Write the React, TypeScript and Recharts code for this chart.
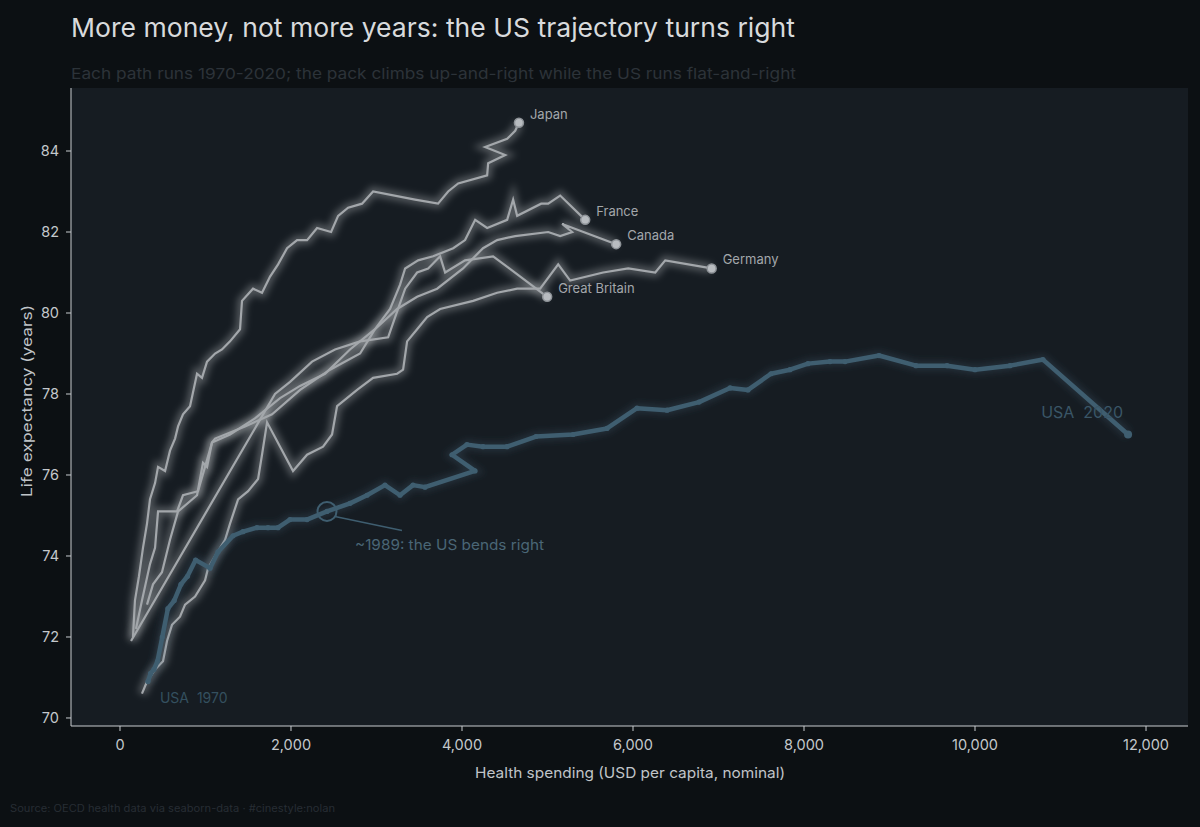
import React from "react";
import { LineChart, Line, XAxis, YAxis, CartesianGrid } from "recharts";

// Paths (spending USD per capita, life expectancy years)
const usaSpend = [327, 358, 397, 439, 495, 560, 634, 713, 789, 884, 1053, 1146, 1322, 1439, 1602, 1731, 1848, 1988, 2187, 2421, 2690, 2889, 3099, 3275, 3427, 3567, 4152, 3883, 4058, 4246, 4526, 4865, 5298, 5696, 6047, 6398, 6772, 7135, 7345, 7614, 7836, 8047, 8304, 8480, 8877, 9310, 9673, 10000, 10409, 10795, 11790];
const usaLife = [70.9, 71.1, 71.2, 71.4, 72.0, 72.7, 72.9, 73.3, 73.5, 73.9, 73.7, 74.1, 74.5, 74.6, 74.7, 74.7, 74.7, 74.9, 74.9, 75.1, 75.3, 75.5, 75.75, 75.5, 75.75, 75.7, 76.1, 76.5, 76.75, 76.7, 76.7, 76.95, 77.0, 77.15, 77.65, 77.6, 77.8, 78.15, 78.1, 78.5, 78.6, 78.75, 78.8, 78.8, 78.95, 78.7, 78.7, 78.6, 78.7, 78.85, 77.0];

const jpnSpend = [152, 175, 222, 269, 316, 351, 410, 445, 527, 585, 644, 679, 737, 819, 901, 959, 1018, 1112, 1193, 1287, 1404, 1427, 1556, 1661, 1755, 1849, 1954, 2071, 2188, 2305, 2469, 2551, 2668, 2831, 2960, 3451, 3720, 3838, 3955, 4294, 4306, 4505, 4271, 4528, 4622, 4666];
const jpnLife = [72.0, 72.9, 73.5, 74.2, 74.8, 75.4, 75.8, 76.2, 76.1, 76.6, 76.9, 77.2, 77.5, 77.7, 78.5, 78.4, 78.8, 79.0, 79.1, 79.3, 79.6, 80.3, 80.6, 80.5, 80.9, 81.2, 81.6, 81.8, 81.8, 82.1, 82.0, 82.4, 82.6, 82.7, 83.0, 82.8, 82.7, 83.0, 83.2, 83.4, 83.7, 83.9, 84.1, 84.3, 84.5, 84.7];

const deuSpend = [257, 316, 410, 503, 550, 608, 702, 761, 878, 995, 1030, 1112, 1229, 1287, 1381, 1498, 1615, 1661, 1720, 2024, 2188, 2375, 2480, 2539, 2773, 2960, 3241, 3311, 3358, 3475, 3592, 3744, 4130, 4411, 4645, 4914, 5125, 5265, 5651, 5944, 6260, 6377, 6920];
const deuLife = [70.6, 70.9, 71.2, 71.4, 71.9, 72.3, 72.5, 72.8, 73.0, 73.4, 73.7, 74.0, 74.4, 74.8, 75.4, 75.6, 75.9, 76.5, 77.3, 76.1, 76.5, 76.7, 77.0, 77.7, 78.1, 78.4, 78.5, 78.6, 79.3, 79.6, 79.9, 80.1, 80.3, 80.5, 80.6, 80.6, 81.2, 80.8, 81.0, 81.1, 81.0, 81.3, 81.1];

const gbrSpend = [129, 1813, 1989, 2246, 2515, 2808, 3136, 3218, 3335, 3475, 3604, 3744, 3803, 4036, 4364, 4996];
const gbrLife = [71.9, 78.0, 78.3, 78.8, 79.1, 79.3, 79.4, 79.9, 80.6, 81.0, 81.1, 81.4, 81.0, 81.3, 81.4, 80.4];

const fraSpend = [187, 257, 351, 410, 445, 667, 737, 913, 1076, 1112, 1462, 1778, 2106, 2457, 2808, 2983, 3159, 3276, 3335, 3487, 3663, 3897, 4036, 4154, 4294, 4528, 4598, 4645, 4926, 5008, 5148, 5441];
const fraLife = [72.2, 72.9, 73.8, 74.2, 75.1, 75.1, 75.5, 75.6, 76.8, 76.9, 77.2, 77.5, 78.1, 78.6, 79.0, 79.6, 80.1, 80.7, 81.1, 81.3, 81.4, 81.6, 81.8, 82.3, 82.1, 82.3, 82.8, 82.4, 82.7, 82.7, 82.9, 82.3];

const canSpend = [316, 386, 491, 585, 679, 901, 971, 1018, 1076, 1287, 1579, 1872, 2106, 2398, 2690, 2983, 3241, 3475, 3709, 4012, 4246, 4411, 4622, 5008, 5148, 5288, 5171, 5803];
const canLife = [72.8, 73.3, 73.6, 74.4, 75.1, 75.5, 76.3, 76.2, 76.8, 77.0, 77.4, 77.9, 78.2, 78.5, 79.1, 79.6, 80.1, 80.4, 80.6, 81.1, 81.6, 81.8, 81.9, 82.0, 81.9, 82.0, 82.2, 81.7];

const xTicks = [0, 2000, 4000, 6000, 8000, 10000, 12000];
const yTicks = [70, 72, 74, 76, 78, 80, 82, 84];

const toRows = (s: number[], l: number[]) => s.map((x, i) => ({ x, y: l[i] }));

const peers = [
  { name: "Japan", rows: toRows(jpnSpend, jpnLife) },
  { name: "Germany", rows: toRows(deuSpend, deuLife) },
  { name: "Great Britain", rows: toRows(gbrSpend, gbrLife) },
  { name: "France", rows: toRows(fraSpend, fraLife) },
  { name: "Canada", rows: toRows(canSpend, canLife) },
];
const usa = toRows(usaSpend, usaLife);

const FONT = "Inter, 'DejaVu Sans', sans-serif";
const GRAY = "#a3a7ab";
const BLUE = "#3f5e70";
const BG = "#0c1013";
const PANEL = "#161c22";

function peerDot(name: string, last: number) {
  return (props: any) => {
    const { cx, cy, index } = props;
    if (index !== last) return <g key={`e-${name}-${index}`} />;
    return (
      <g key={`d-${name}-${index}`}>
        <circle cx={cx} cy={cy} r={4.5} fill="#b8bcc0" stroke="#8e9398" strokeWidth={1.5} />
        <text x={cx + 11} y={cy - 4} fill="#a3a7ab" fontSize={13} fontFamily={FONT}>
          {name}
        </text>
      </g>
    );
  };
}

function usaDot(props: any) {
  const { cx, cy, index } = props;
  const last = usa.length - 1;
  return (
    <g key={`u-${index}`}>
      <circle cx={cx} cy={cy} r={index === last ? 4 : 2.6} fill={BLUE} />
      {index === 0 && (
        <text x={cx + 12} y={cy + 21} fill="#34505f" fontSize={14} fontFamily={FONT}>
          USA{"\u00a0\u00a0"}1970
        </text>
      )}
      {index === last && (
        <text x={cx - 5} y={cy - 16} textAnchor="end" fill="#3a5667" fontSize={16} fontFamily={FONT}>
          USA{"\u00a0\u00a0"}2020
        </text>
      )}
      {index === 19 && (
        <g>
          <circle cx={cx} cy={cy} r={9.5} fill="none" stroke={BLUE} strokeWidth={2} />
          <line x1={cx + 8} y1={cy + 5} x2={cx + 75} y2={cy + 19} stroke={BLUE} strokeWidth={1.5} />
          <text
            x={cx + 28}
            y={cy + 39}
            fill="#4a6676"
            fontSize={14.5}
            fontFamily={FONT}
            textLength={189}
            lengthAdjust="spacingAndGlyphs"
          >
            ~1989: the US bends right
          </text>
        </g>
      )}
    </g>
  );
}

export default function App() {
  return (
    <div style={{ position: "absolute", left: 0, top: 0, width: 1200, height: 827, background: BG }}>
      <LineChart
        width={1200}
        height={827}
        margin={{ top: 88, right: 12, bottom: 61, left: 16 }}
        style={{ position: "absolute", left: 0, top: 0 }}
      >
        <defs>
          <filter id="glow" x="-20%" y="-20%" width="140%" height="140%">
            <feGaussianBlur stdDeviation="3.5" />
          </filter>
        </defs>
        <CartesianGrid fill={PANEL} horizontal={false} vertical={false} />
        <XAxis
          type="number"
          dataKey="x"
          domain={[-573, 12491]}
          ticks={xTicks}
          allowDataOverflow
          height={40}
          tickSize={5}
          tickMargin={9}
          stroke="#c8ccd0"
          tick={{ fill: "#c4c8cc", fontSize: 14.5, fontFamily: FONT }}
          tickFormatter={(v: number) => v.toLocaleString("en-US")}
        />
        <YAxis
          type="number"
          dataKey="y"
          domain={[69.802, 85.556]}
          ticks={yTicks}
          allowDataOverflow
          width={55}
          tickSize={5}
          tickMargin={7}
          stroke="#c8ccd0"
          tick={{ fill: "#c4c8cc", fontSize: 14.5, fontFamily: FONT }}
        />
        {peers.map((p) => (
          <Line
            key={`h-${p.name}`}
            data={p.rows}
            dataKey="y"
            type="linear"
            stroke="#d0d4d8"
            strokeWidth={9}
            strokeOpacity={0.32}
            filter="url(#glow)"
            dot={false}
            activeDot={false}
            isAnimationActive={false}
          />
        ))}
        {peers.map((p) => (
          <Line
            key={`l-${p.name}`}
            data={p.rows}
            dataKey="y"
            type="linear"
            stroke={GRAY}
            strokeWidth={2.2}
            dot={peerDot(p.name, p.rows.length - 1)}
            activeDot={false}
            isAnimationActive={false}
          />
        ))}
        <Line
          data={usa}
          dataKey="y"
          type="linear"
          stroke="#4b7085"
          strokeWidth={9}
          strokeOpacity={0.25}
          filter="url(#glow)"
          dot={false}
          activeDot={false}
          isAnimationActive={false}
        />
        <Line
          data={usa}
          dataKey="y"
          type="linear"
          stroke={BLUE}
          strokeWidth={4.5}
          strokeLinejoin="round"
          strokeLinecap="round"
          dot={usaDot}
          activeDot={false}
          isAnimationActive={false}
        />
      </LineChart>
      <svg width={1200} height={827} style={{ position: "absolute", left: 0, top: 0, pointerEvents: "none" }}>
        <text x={71} y={37} fill="#d8dadc" fontSize={26} fontFamily={FONT} textLength={724} lengthAdjust="spacingAndGlyphs">
          More money, not more years: the US trajectory turns right
        </text>
        <text x={71} y={79} fill="#2c3339" fontSize={15} fontFamily={FONT} textLength={725} lengthAdjust="spacingAndGlyphs">
          Each path runs 1970-2020; the pack climbs up-and-right while the US runs flat-and-right
        </text>
        <text
          x={475}
          y={778}
          fill="#c0c4c8"
          fontSize={14.5}
          fontFamily={FONT}
          textLength={310}
          lengthAdjust="spacingAndGlyphs"
        >
          Health spending (USD per capita, nominal)
        </text>
        <text
          x={0}
          y={0}
          transform="translate(32,497) rotate(-90)"
          fill="#c0c4c8"
          fontSize={14.5}
          fontFamily={FONT}
          textLength={192}
          lengthAdjust="spacingAndGlyphs"
        >
          Life expectancy (years)
        </text>
        <text x={10} y={812} fill="#272d33" fontSize={10} fontFamily={FONT} textLength={325} lengthAdjust="spacingAndGlyphs">
          Source: OECD health data via seaborn-data · #cinestyle:nolan
        </text>
      </svg>
    </div>
  );
}
